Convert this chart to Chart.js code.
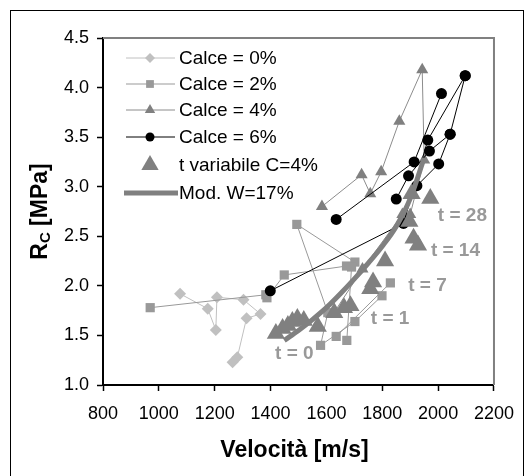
<!DOCTYPE html>
<html>
<head>
<meta charset="utf-8">
<script src="https://cdn.jsdelivr.net/npm/chart.js@4/dist/chart.umd.min.js"></script>
<style>
  html, body { margin: 0; padding: 0; background: #fff; }
  #wrap { width: 526px; height: 476px; }
</style>
</head>
<body>
<div id="wrap"><canvas id="chart" width="526" height="476"></canvas></div>
<script>
// values (null = break in the line)
const velo0 = [1076, 1175, 1204, 1208, 1303, 1364, 1314, 1281, 1264];
const rc0   = [1.92, 1.77, 1.555, 1.885, 1.86, 1.716, 1.673, 1.28, 1.23];

const velo2 = [969, 1383, null, 1387, 1449, 1672, null, 1702, 1494, 1605, 1579, 1702, 1799, null, 1635, 1829, null, 1673, 1690];
const rc2   = [1.78, 1.91, null, 1.88, 2.11, 2.20, null, 2.24, 2.62, 1.73, 1.40, 1.64, 1.90, null, 1.49, 2.03, null, 1.45, 2.19];

const velo4 = [1584, 1726, 1757, 1796, 1861, 1943, 1950, 1900, null, 1625, 1729, 1872];
const rc4   = [2.80, 3.12, 2.93, 3.15, 3.66, 4.18, 3.27, 2.72, null, 1.72, 2.17, 2.72];

const velo6 = [1399, 1876, 1963, 2097, null, 1635, 1914, 2012, null, 1850, 1894, 1969, 2043, 2097, null, 1924, 2002, 2043];
const rc6   = [1.95, 2.63, 3.47, 4.12, null, 2.67, 3.25, 3.94, null, 2.875, 3.11, 3.36, 3.53, 4.12, null, 3.01, 3.23, 3.53];

const veloT = [1419, 1443, 1462, 1478, 1496, 1519, 1569, 1628, 1663, 1686, 1757, 1767, 1810, 1897, 1912, 1928, 1905, 1972];
const rcT   = [1.52, 1.57, 1.60, 1.64, 1.67, 1.65, 1.59, 1.73, 1.78, 1.80, 1.97, 2.04, 2.25, 2.65, 2.48, 2.41, 2.93, 2.88];

const veloM = [1449, 1500, 1550, 1600, 1650, 1700, 1750, 1800, 1850, 1900, 1950];
const rcM   = [1.45, 1.55, 1.66, 1.78, 1.92, 2.07, 2.23, 2.40, 2.60, 2.88, 3.29];

const seriesNames = ['Calce = 0%', 'Calce = 2%', 'Calce = 4%', 'Calce = 6%', 't variabile C=4%', 'Mod. W=17%'];

const timeLabels = ['t = 0', 't = 1', 't = 7', 't = 14', 't = 28'];
const timeVelo   = [1485, 1828, 1962, 2062, 2087];
const timeRc     = [1.32, 1.67, 2.00, 2.35, 2.71];

const xTicks = [800, 1000, 1200, 1400, 1600, 1800, 2000, 2200];
const yTicks = [1.0, 1.5, 2.0, 2.5, 3.0, 3.5, 4.0, 4.5];

const FONT = "'Liberation Sans', Arial, sans-serif";

function pts(xs, ys) {
  return xs.map((x, i) => x === null ? {x: null, y: null} : {x: x, y: ys[i]});
}

const datasets = [
  { label: seriesNames[0], data: pts(velo0, rc0), showLine: true, borderColor: '#c0c0c0', backgroundColor: '#c0c0c0',
    borderWidth: 1, pointStyle: 'rectRot', pointRadius: 6, pointBorderWidth: 0, order: 5 },
  { label: seriesNames[1], data: pts(velo2, rc2), showLine: true, borderColor: '#999999', backgroundColor: '#999999',
    borderWidth: 1, pointStyle: 'rect', pointRadius: 6.5, pointBorderWidth: 0, order: 4 },
  { label: seriesNames[2], data: pts(velo4, rc4), showLine: true, borderColor: '#8c8c8c', backgroundColor: '#808080',
    borderWidth: 1, pointStyle: 'triangle', pointRadius: 7, pointBorderWidth: 0, order: 3 },
  { label: seriesNames[3], data: pts(velo6, rc6), showLine: true, borderColor: '#000000', backgroundColor: '#000000',
    borderWidth: 1, pointStyle: 'circle', pointRadius: 5.5, pointBorderWidth: 0, order: 2 },
  { label: seriesNames[4], data: pts(veloT, rcT), showLine: false, borderColor: '#808080', backgroundColor: '#808080',
    pointStyle: 'triangle', pointRadius: 10.5, pointBorderWidth: 0, order: 1 },
  { label: seriesNames[5], data: pts(veloM, rcM), showLine: true, borderColor: '#808080', backgroundColor: '#808080',
    borderWidth: 5, pointRadius: 0, tension: 0.4, cubicInterpolationMode: 'monotone', order: 0 }
];

const decor = {
  id: 'decor',
  afterDraw(chart) {
    const ctx = chart.ctx;
    const a = chart.chartArea;
    const xs = chart.scales.x, ys = chart.scales.y;
    ctx.save();

    // top and right edge of the plot area in grey
    ctx.strokeStyle = '#808080';
    ctx.lineWidth = 2;
    ctx.beginPath();
    ctx.moveTo(a.left, a.top);
    ctx.lineTo(a.right, a.top);
    ctx.lineTo(a.right, a.bottom);
    ctx.stroke();

    // outer frame
    ctx.strokeStyle = '#000';
    ctx.lineWidth = 1;
    ctx.strokeRect(10.5, 10.5, 513, 480);

    // legend
    const rows = [58, 84, 110, 137, 165, 193];
    ctx.font = '19px ' + FONT;
    ctx.textBaseline = 'middle';
    ctx.textAlign = 'left';
    datasets.forEach((ds, i) => {
      const y = rows[i];
      if (ds.showLine) {
        ctx.strokeStyle = ds.borderColor;
        ctx.lineWidth = ds.borderWidth;
        ctx.beginPath();
        ctx.moveTo(i === 5 ? 124 : 126, y);
        ctx.lineTo(i === 5 ? 178 : 175, y);
        ctx.stroke();
      }
      if (ds.pointRadius > 0) {
        ctx.fillStyle = ds.backgroundColor;
        ctx.strokeStyle = ds.backgroundColor;
        const r = i === 4 ? 10 : ds.pointRadius - 1;
        Chart.helpers.drawPoint(ctx, {pointStyle: ds.pointStyle, radius: r, rotation: 0, borderWidth: 0}, 150, y);
      }
      ctx.fillStyle = '#000';
      ctx.fillText(ds.label, 179, y + 1);
    });

    // time labels
    ctx.font = 'bold 19px ' + FONT;
    ctx.fillStyle = '#999999';
    ctx.textAlign = 'center';
    timeLabels.forEach((t, i) => {
      ctx.fillText(t, xs.getPixelForValue(timeVelo[i]), ys.getPixelForValue(timeRc[i]));
    });

    // x title
    ctx.fillStyle = '#000';
    ctx.font = 'bold 23px ' + FONT;
    ctx.textAlign = 'center';
    ctx.fillText('Velocità [m/s]', (a.left + a.right) / 2 - 4, 451);

    // y title with subscript
    ctx.translate(41, (a.top + a.bottom) / 2);
    ctx.rotate(-Math.PI / 2);
    const big = 'bold 23px ' + FONT, small = 'bold 15px ' + FONT;
    ctx.font = big;
    const wR = ctx.measureText('R').width;
    const wU = ctx.measureText(' [MPa]').width;
    ctx.font = small;
    const wC = ctx.measureText('C').width;
    let x0 = -(wR + wC + wU) / 2;
    ctx.textAlign = 'left';
    ctx.font = big;
    ctx.fillText('R', x0, 0);
    ctx.font = small;
    ctx.fillText('C', x0 + wR, 5);
    ctx.font = big;
    ctx.fillText(' [MPa]', x0 + wR + wC, 0);
    ctx.restore();
  }
};

new Chart(document.getElementById('chart'), {
  type: 'scatter',
  data: { datasets: datasets },
  plugins: [decor],
  options: {
    responsive: false,
    animation: false,
    layout: { padding: { left: 0, top: 38, right: 27, bottom: 0 } },
    plugins: { legend: { display: false }, tooltip: { enabled: false } },
    scales: {
      x: {
        type: 'linear', min: xTicks[0], max: xTicks[xTicks.length - 1],
        afterBuildTicks: s => { s.ticks = xTicks.map(v => ({value: v})); },
        afterFit: s => { s.height = 91; },
        ticks: { color: '#000', font: { family: FONT, size: 18 }, padding: 12, maxRotation: 0, callback: v => String(v) },
        grid: { drawOnChartArea: false, color: '#000', tickLength: 6, tickWidth: 1.5 },
        border: { color: '#000', width: 2 }
      },
      y: {
        type: 'linear', min: yTicks[0], max: yTicks[yTicks.length - 1],
        afterBuildTicks: s => { s.ticks = yTicks.map(v => ({value: v})); },
        afterFit: s => { s.width = 103; },
        ticks: { color: '#000', font: { family: FONT, size: 18 }, padding: 8, callback: v => Number(v).toFixed(1) },
        grid: { drawOnChartArea: false, color: '#000', tickLength: 6, tickWidth: 1.5 },
        border: { color: '#000', width: 2 }
      }
    }
  }
});
</script>
</body>
</html>
